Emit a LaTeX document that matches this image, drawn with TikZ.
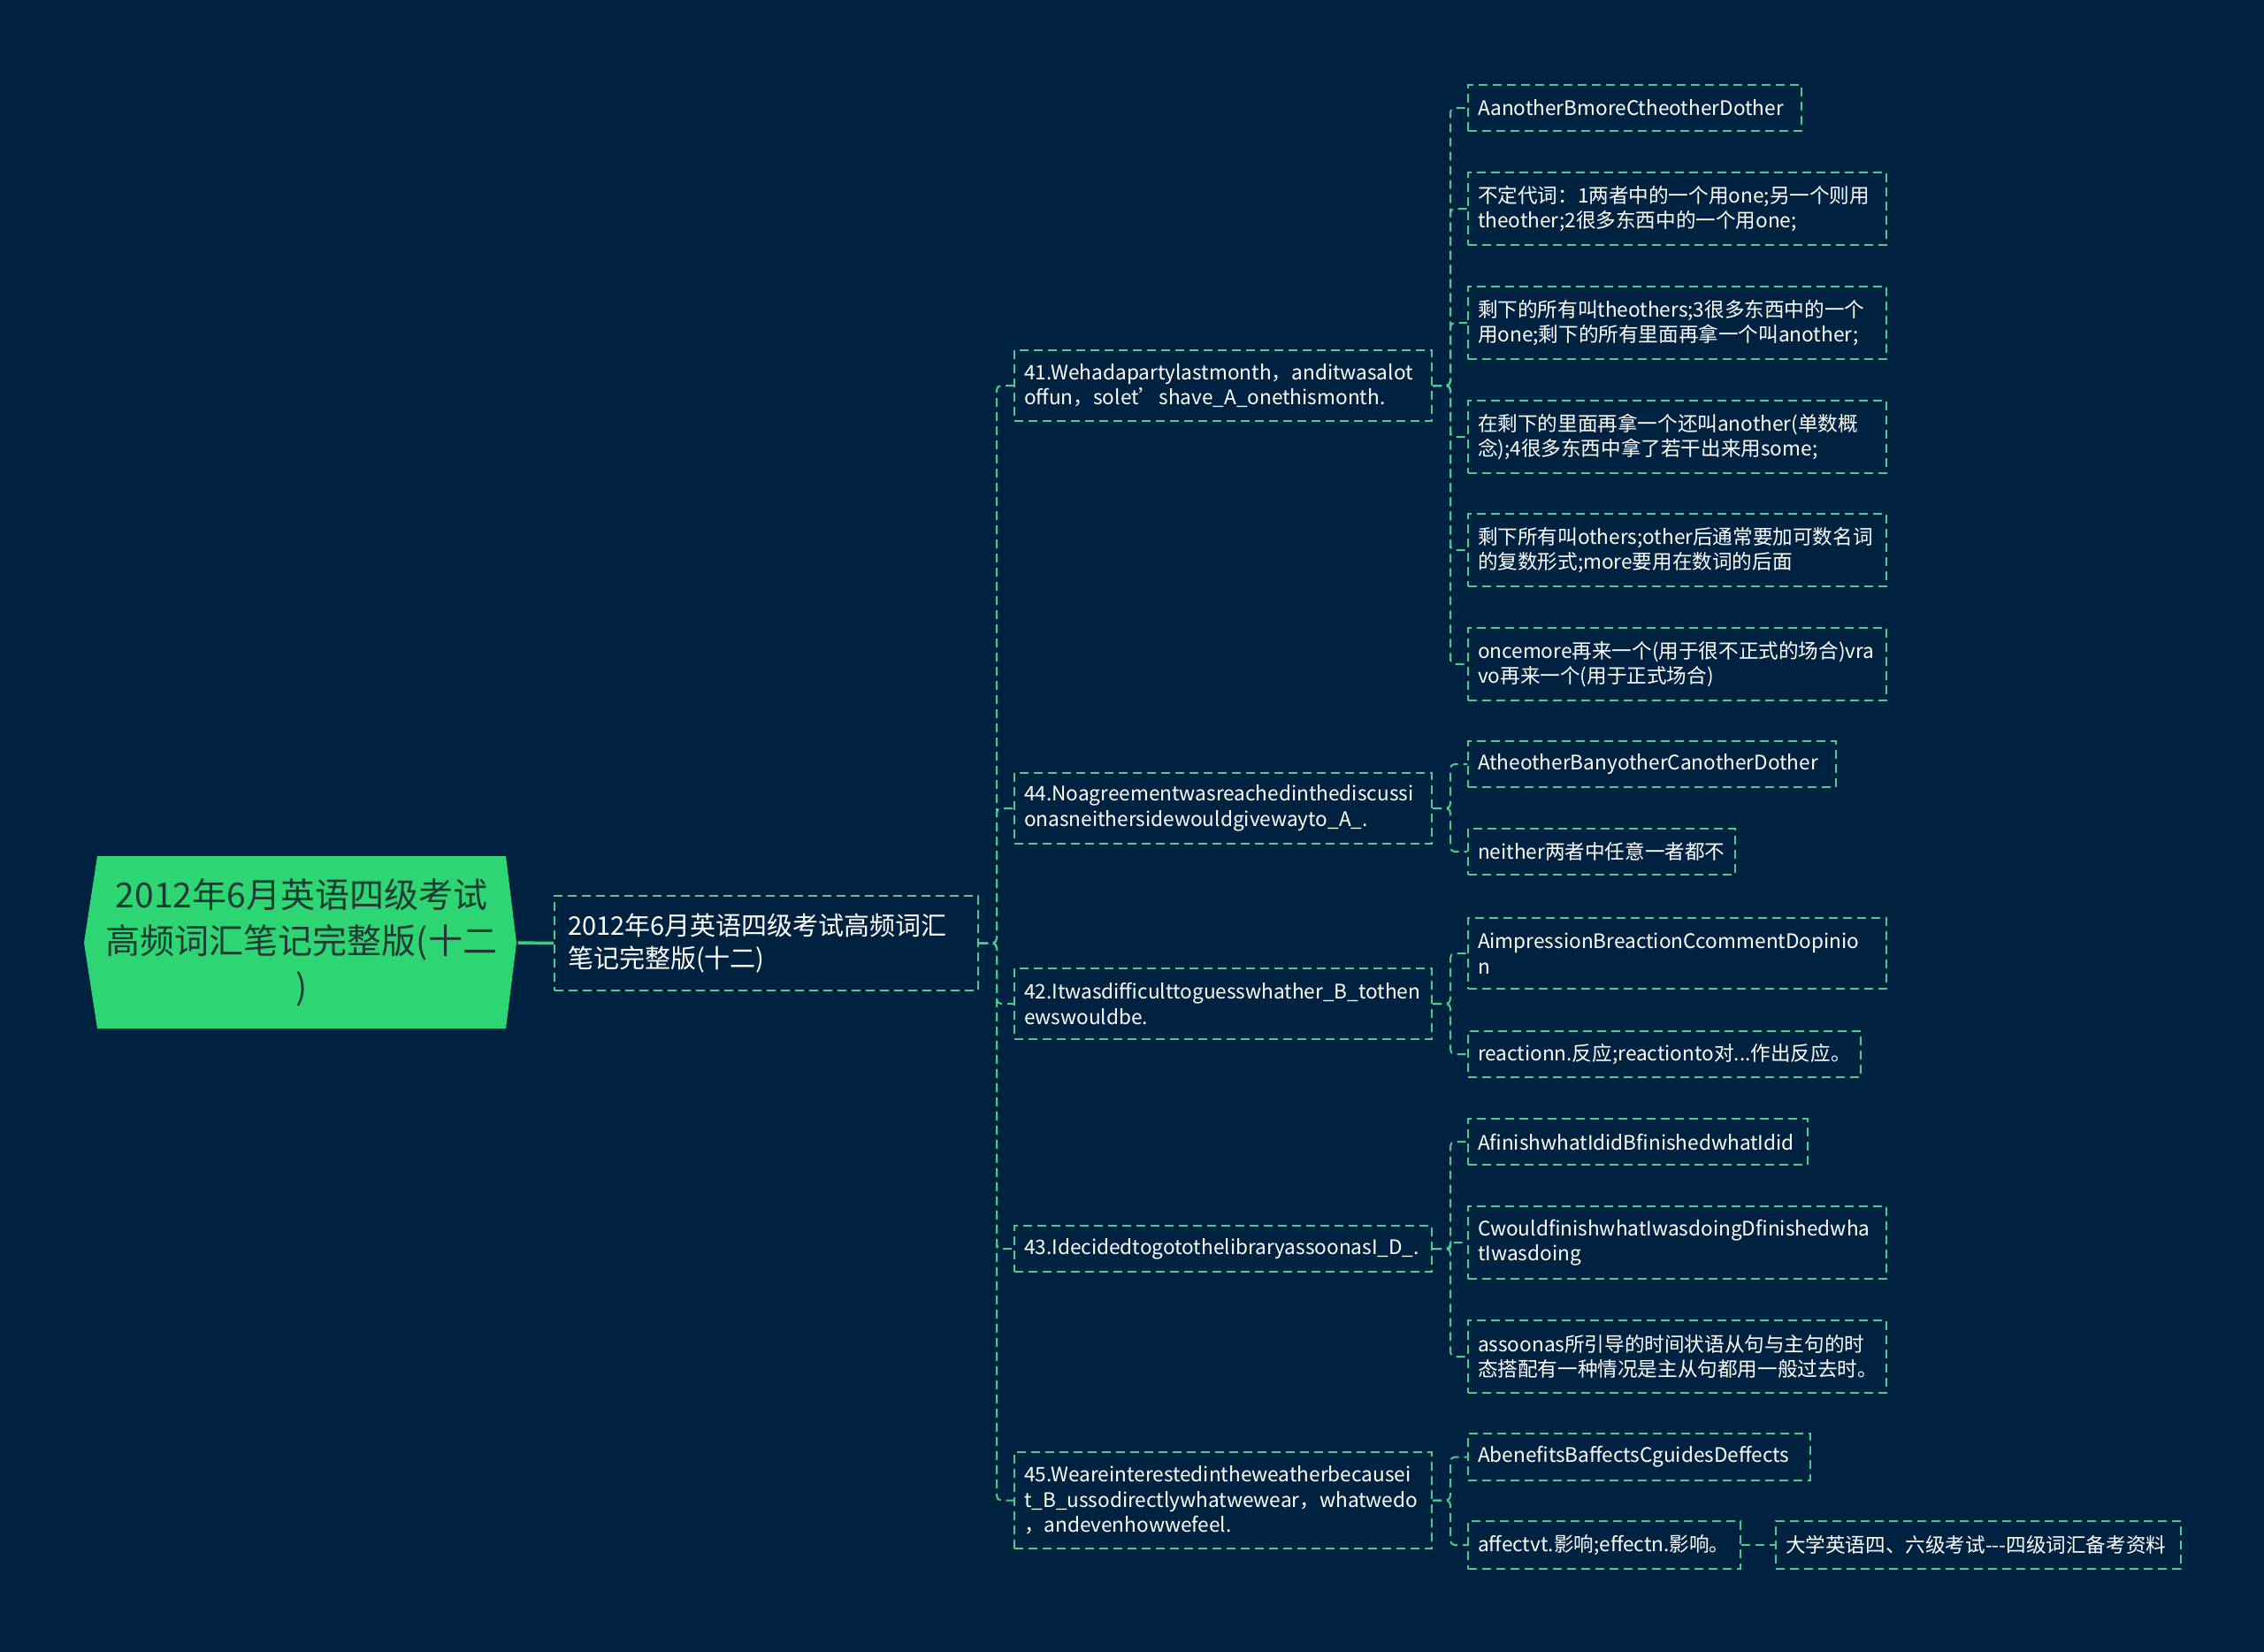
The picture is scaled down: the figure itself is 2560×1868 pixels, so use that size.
\documentclass[tikz,border=0pt]{standalone}
\usepackage{fontspec}
\setmainfont{Noto Sans CJK SC}
\definecolor{bg}{HTML}{002241}
\definecolor{lineg}{HTML}{4ECB8D}
\definecolor{rootg}{HTML}{2ED573}
\definecolor{roottxt}{HTML}{1E3A34}
\tikzset{
  box/.style={draw=lineg, dash pattern=on 10pt off 6pt, line width=2pt,
    inner xsep=11pt, inner ysep=0pt, align=left, anchor=north west,
    text=white, font=\fontsize{22.6}{28.5}\selectfont},
  lvone/.style={box, inner xsep=15pt, font=\fontsize{29}{37.5}\selectfont},
  conn/.style={draw=lineg, line width=2pt, dash pattern=on 10pt off 6pt, rounded corners=5pt},
  rootconn/.style={draw=rootg, line width=3.5pt},
}
\begin{document}
\begin{tikzpicture}[x=1pt,y=-1pt]
\fill[bg] (0,0) rectangle (2560,1868);
\useasboundingbox (0,0) rectangle (2560,1868);
% root
\fill[rootg] (110,968) -- (572,968) -- (584,1066) -- (572,1163) -- (110,1163) -- (95,1066) -- cycle;
\node[minimum width=489pt, minimum height=195pt, inner sep=0pt, align=center, text=roottxt,
  font=\fontsize{39}{52}\selectfont] (root) at (341,1066) {2012年6月英语四级考试\\高频词汇笔记完整版(十二\\)};
% level 1
\node[lvone, text width=449pt, minimum height=107pt] (L1) at (626,1012) {2012年6月英语四级考试高频词汇\\笔记完整版(十二)};
% level 2
\node[box, text width=450pt, minimum height=80pt] (n41) at (1146,395) {41.Wehadapartylastmonth，anditwasalot\\offun，solet’shave\_A\_onethismonth.};
\node[box, text width=450pt, minimum height=80pt] (n44) at (1146,873) {44.Noagreementwasreachedinthediscussi\\onasneithersidewouldgivewayto\_A\_.};
\node[box, text width=450pt, minimum height=80pt] (n42) at (1146,1094) {42.Itwasdifficulttoguesswhather\_B\_tothen\\ewswouldbe.};
\node[box, text width=450pt, minimum height=52pt] (n43) at (1146,1385) {43.IdecidedtogotothelibraryassoonasI\_D\_.};
\node[box, text width=450pt, minimum height=109pt] (n45) at (1146,1641) {45.Weareinterestedintheweatherbecausei\\t\_B\_ussodirectlywhatwewear，whatwedo\\，andevenhowwefeel.};
% level 3 (41)
\node[box, text width=355pt, minimum height=52pt] (c1) at (1659,95) {AanotherBmoreCtheotherDother};
\node[box, text width=451pt, minimum height=82pt] (c2) at (1659,194) {不定代词：1两者中的一个用one;另一个则用\\theother;2很多东西中的一个用one;};
\node[box, text width=451pt, minimum height=82pt] (c3) at (1659,323) {剩下的所有叫theothers;3很多东西中的一个\\用one;剩下的所有里面再拿一个叫another;};
\node[box, text width=451pt, minimum height=82pt] (c4) at (1659,452) {在剩下的里面再拿一个还叫another(单数概\\念);4很多东西中拿了若干出来用some;};
\node[box, text width=451pt, minimum height=82pt] (c5) at (1659,580) {剩下所有叫others;other后通常要加可数名词\\的复数形式;more要用在数词的后面};
\node[box, text width=451pt, minimum height=82pt] (c6) at (1659,709) {oncemore再来一个(用于很不正式的场合)vra\\vo再来一个(用于正式场合)};
% level 3 (44)
\node[box, text width=394pt, minimum height=52pt] (d1) at (1659,837) {AtheotherBanyotherCanotherDother};
\node[box, text width=280pt, minimum height=52pt] (d2) at (1659,936) {neither两者中任意一者都不};
% level 3 (42)
\node[box, text width=451pt, minimum height=80pt] (e1) at (1659,1037) {AimpressionBreactionCcommentDopinio\\n};
\node[box, text width=422pt, minimum height=52pt] (e2) at (1659,1165) {reactionn.反应;reactionto对...作出反应。};
% level 3 (43)
\node[box, text width=362pt, minimum height=52pt] (f1) at (1659,1264) {AfinishwhatIdidBfinishedwhatIdid};
\node[box, text width=451pt, minimum height=82pt] (f2) at (1659,1363) {CwouldfinishwhatIwasdoingDfinishedwha\\tIwasdoing};
\node[box, text width=451pt, minimum height=82pt] (f3) at (1659,1492) {assoonas所引导的时间状语从句与主句的时\\态搭配有一种情况是主从句都用一般过去时。};
% level 3 (45)
\node[box, text width=365pt, minimum height=53pt] (g1) at (1659,1620) {AbenefitsBaffectsCguidesDeffects};
\node[box, text width=286pt, minimum height=54pt] (g2) at (1659,1719) {affectvt.影响;effectn.影响。};
\node[box, text width=436pt, minimum height=54pt] (g3) at (2007,1719) {大学英语四、六级考试-{}-{}-四级词汇备考资料};
% connectors
\draw[rootconn] (root.east) -- (L1.west);
\foreach \c in {n41,n44,n42,n43,n45} {\draw[conn] (L1.east) -- ++(20,0) |- (\c.west);}
\foreach \c in {c1,c2,c3,c4,c5,c6} {\draw[conn] (n41.east) -- ++(20,0) |- (\c.west);}
\foreach \c in {d1,d2} {\draw[conn] (n44.east) -- ++(20,0) |- (\c.west);}
\foreach \c in {e1,e2} {\draw[conn] (n42.east) -- ++(20,0) |- (\c.west);}
\foreach \c in {f1,f2,f3} {\draw[conn] (n43.east) -- ++(20,0) |- (\c.west);}
\foreach \c in {g1,g2} {\draw[conn] (n45.east) -- ++(20,0) |- (\c.west);}
\draw[conn] (g2.east) -- (g3.west);
\end{tikzpicture}
\end{document}
